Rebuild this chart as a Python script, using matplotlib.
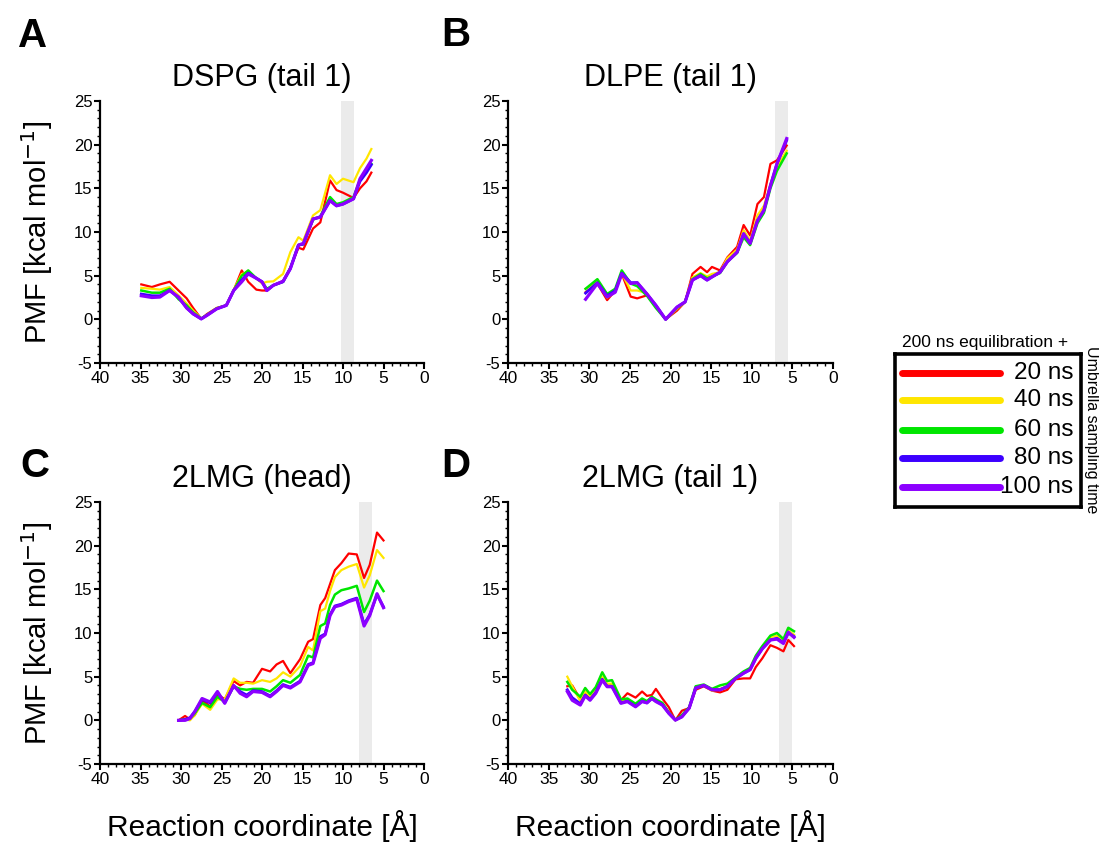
"""
PMF 收敛性对比 — 不同伞形采样时间 (20-100 ns)
"""

import matplotlib
matplotlib.use('Agg')
import matplotlib.pyplot as plt
from matplotlib.ticker import MultipleLocator
from matplotlib import rcParams

rcParams['font.family'] = ['Liberation Sans', 'DejaVu Sans']
rcParams['axes.unicode_minus'] = False

C_RED = '#ff0000'
C_YELLOW = '#ffe600'
C_GREEN = '#00e600'
C_BLUE = '#3c00ff'
C_PURPLE = '#8c00ff'
C_BAND = '#ebebeb'

LABELS = ['20 ns', '40 ns', '60 ns', '80 ns', '100 ns']
COLORS = [C_RED, C_YELLOW, C_GREEN, C_BLUE, C_PURPLE]
WIDTHS = [1.6, 1.6, 1.8, 2.0, 2.3]

# ── A: DSPG (tail 1) ──
A_X = [34.9, 33.6, 32.6, 31.4, 30.3, 29.3, 28.5, 27.5, 26.8, 25.6, 24.4, 23.5, 22.5, 21.7, 20.7,
       20.0, 19.4, 18.6, 17.4, 16.5, 15.5, 14.9, 13.7, 12.8, 11.6, 10.8, 10.0, 8.7, 7.9, 7.1, 6.5]
A_20 = [4.0, 3.7, 4.0, 4.3, 3.3, 2.4, 1.3, 0.05, 0.6, 1.3, 1.6, 3.3, 5.6, 4.3, 3.4,
        3.3, 3.3, 3.9, 4.4, 5.9, 8.2, 8.0, 10.4, 11.1, 15.9, 14.8, 14.5, 13.9, 15.0, 15.8, 16.8]
A_40 = [3.6, 3.5, 3.4, 3.7, 2.75, 1.8, 1.0, 0.1, 0.5, 1.3, 1.6, 3.4, 5.2, 5.4, 4.7,
        4.1, 4.3, 4.35, 5.2, 7.7, 9.4, 9.0, 11.9, 12.5, 16.5, 15.5, 16.1, 15.7, 17.3, 18.4, 19.5]
A_60 = [3.3, 3.05, 3.05, 3.5, 2.3, 1.6, 0.8, 0.1, 0.5, 1.25, 1.6, 3.3, 5.0, 5.6, 4.7,
        4.3, 3.5, 3.9, 4.3, 5.9, 8.5, 8.6, 11.4, 11.8, 14.0, 13.2, 13.4, 14.0, 16.0, 17.1, 17.8]
A_80 = [2.9, 2.7, 2.7, 3.3, 2.5, 1.3, 0.6, 0.05, 0.45, 1.2, 1.6, 3.3, 4.5, 5.3, 4.7,
        4.3, 3.3, 3.9, 4.3, 5.8, 8.5, 8.6, 11.5, 11.7, 13.6, 13.0, 13.2, 13.8, 15.8, 16.8, 17.7]
A_100 = [2.7, 2.5, 2.55, 3.3, 2.55, 1.3, 0.65, 0.05, 0.45, 1.2, 1.6, 3.3, 4.3, 5.2, 4.7,
         4.3, 3.3, 3.9, 4.35, 5.8, 8.5, 8.7, 11.5, 11.7, 13.6, 13.0, 13.2, 13.8, 16.1, 17.3, 18.2]

# ── B: DLPE (tail 1) ──
B_X = [30.45, 29.0, 27.8, 26.8, 26.0, 24.9, 24.1, 22.9, 21.8, 20.6, 19.2, 18.2, 17.3,
       16.3, 15.5, 14.9, 13.9, 13.0, 11.8, 11.0, 10.2, 9.3, 8.5, 7.7, 6.9, 5.7]
B_20 = [3.1, 4.1, 2.2, 3.3, 5.2, 2.6, 2.4, 2.75, 1.6, 0.0, 1.0, 2.0, 5.2,
        6.0, 5.4, 6.0, 5.6, 7.1, 8.3, 10.8, 9.6, 13.2, 14.0, 17.8, 18.2, 19.9]
B_40 = [3.5, 4.3, 2.5, 3.2, 5.3, 3.3, 3.3, 3.0, 1.5, 0.0, 1.2, 2.0, 4.8,
        5.3, 4.9, 5.2, 5.4, 7.0, 8.0, 10.2, 9.0, 11.9, 13.0, 15.5, 17.5, 19.3]
B_60 = [3.5, 4.6, 2.9, 3.5, 5.6, 4.1, 3.8, 2.7, 1.3, 0.0, 1.3, 2.0, 4.6,
        5.2, 4.7, 4.9, 5.3, 6.6, 7.6, 9.4, 8.5, 11.0, 12.2, 15.0, 17.0, 19.0]
B_80 = [3.0, 4.2, 2.7, 3.3, 5.3, 4.2, 4.2, 2.9, 1.6, 0.0, 1.4, 2.0, 4.5,
        5.0, 4.5, 4.85, 5.4, 6.6, 7.7, 9.8, 8.7, 11.3, 12.5, 15.3, 17.8, 20.5]
B_100 = [2.3, 4.1, 2.56, 3.1, 5.2, 4.1, 4.2, 2.9, 1.6, 0.0, 1.4, 2.0, 4.5,
         5.0, 4.5, 4.85, 5.4, 6.6, 7.7, 9.8, 8.7, 11.3, 12.5, 15.3, 17.8, 20.7]

# ── C: 2LMG (head) ──
C_X = [30.3, 29.5, 28.9, 28.3, 27.4, 26.4, 25.5, 24.6, 23.5, 22.7, 21.9, 21.1, 20.0, 19.0, 18.2,
       17.4, 16.5, 15.3, 14.3, 13.7, 12.8, 12.2, 11.6, 11.0, 10.2, 9.3, 8.3, 7.4, 6.7, 5.8, 5.0]
C_20 = [0.0, 0.5, 0.1, 0.6, 2.3, 1.6, 3.0, 2.4, 4.5, 4.0, 4.4, 4.3, 5.9, 5.6, 6.4,
        6.8, 5.4, 7.0, 9.0, 9.3, 13.2, 14.0, 15.6, 17.2, 18.0, 19.1, 19.0, 16.3, 17.8, 21.5, 20.6]
C_40 = [0.0, 0.1, 0.0, 0.6, 1.9, 1.2, 2.4, 2.4, 4.8, 4.3, 4.3, 4.2, 4.6, 4.4, 4.8,
        5.5, 5.0, 6.2, 8.4, 8.0, 12.5, 12.8, 14.8, 16.4, 17.2, 17.6, 17.9, 15.2, 16.6, 19.5, 18.6]
C_60 = [0.0, 0.1, 0.2, 0.8, 2.0, 1.5, 2.7, 2.1, 3.9, 3.6, 3.5, 3.6, 3.6, 3.3, 3.9,
        4.6, 4.3, 5.2, 7.4, 7.2, 10.8, 11.1, 13.2, 14.4, 14.9, 15.1, 15.4, 12.4, 13.7, 16.0, 14.8]
C_80 = [0.0, 0.1, 0.3, 1.0, 2.4, 2.0, 3.2, 2.0, 3.9, 3.3, 2.9, 3.4, 3.3, 2.8, 3.4,
        4.1, 3.8, 4.5, 6.4, 6.6, 9.6, 9.9, 12.1, 13.1, 13.3, 13.7, 14.0, 11.0, 12.1, 14.4, 13.0]
C_100 = [0.0, 0.0, 0.2, 1.0, 2.5, 2.1, 3.3, 1.95, 4.0, 3.1, 2.7, 3.3, 3.2, 2.7, 3.3,
         4.0, 3.7, 4.4, 6.3, 6.5, 9.4, 9.8, 12.0, 13.0, 13.2, 13.6, 13.9, 10.8, 12.0, 14.5, 12.9]

# ── D: 2LMG (tail 1) ──
D_X = [32.7, 32.1, 31.1, 30.5, 29.9, 29.2, 28.4, 27.8, 27.2, 26.1, 25.3, 24.3, 23.5, 22.9, 22.3, 21.8,
       21.0, 20.2, 19.4, 18.6, 17.7, 16.9, 15.9, 14.9, 13.9, 13.0, 12.0, 11.0, 10.2, 9.5, 8.7, 7.7,
       6.9, 6.1, 5.5, 4.8]
D_20 = [3.9, 4.0, 2.4, 3.0, 2.7, 3.4, 4.7, 4.0, 4.0, 2.3, 3.1, 2.6, 3.3, 2.8, 2.9, 3.6,
        2.5, 1.5, 0.0, 1.1, 1.4, 3.5, 3.9, 3.4, 3.2, 3.5, 4.7, 4.8, 4.8, 6.1, 7.1, 8.6,
        8.3, 7.9, 9.2, 8.5]
D_40 = [5.0, 3.9, 2.2, 3.3, 2.7, 3.5, 5.0, 4.2, 4.2, 2.2, 2.4, 1.8, 2.4, 2.1, 2.6, 2.3,
        1.9, 0.9, 0.05, 0.5, 1.4, 3.8, 4.0, 3.4, 3.6, 3.9, 4.8, 5.5, 5.9, 7.2, 8.3, 9.5,
        9.7, 9.1, 10.3, 9.8]
D_60 = [4.4, 3.5, 2.7, 3.7, 3.0, 3.8, 5.5, 4.5, 4.6, 2.4, 2.5, 1.9, 2.5, 2.2, 2.7, 2.4,
        2.0, 0.9, 0.05, 0.6, 1.5, 3.9, 4.1, 3.6, 4.0, 4.2, 4.9, 5.6, 6.0, 7.4, 8.5, 9.7,
        10.0, 9.3, 10.6, 10.2]
D_80 = [3.5, 2.6, 1.9, 2.9, 2.4, 3.2, 4.7, 3.9, 3.9, 2.0, 2.2, 1.6, 2.2, 2.0, 2.5, 2.2,
        1.8, 0.8, 0.03, 0.4, 1.4, 3.7, 4.0, 3.5, 3.5, 3.9, 4.8, 5.4, 5.8, 7.1, 8.2, 9.2,
        9.4, 8.9, 10.0, 9.6]
D_100 = [3.3, 2.3, 1.75, 2.8, 2.3, 3.1, 4.6, 3.85, 3.85, 1.95, 2.15, 1.55, 2.15, 2.0, 2.5, 2.15,
         1.75, 0.8, 0.03, 0.4, 1.4, 3.7, 4.0, 3.5, 3.5, 3.85, 4.8, 5.4, 5.8, 7.1, 8.2, 9.2,
         9.3, 8.8, 10.1, 9.5]

TITLES = ['DSPG (tail 1)', 'DLPE (tail 1)', '2LMG (head)', '2LMG (tail 1)']
LETTERS = ['A', 'B', 'C', 'D']
BANDS = [(8.6, 10.2), (5.6, 7.2), (6.4, 8.0), (5.0, 6.6)]
PANELS = [
    (A_X, [A_20, A_40, A_60, A_80, A_100]),
    (B_X, [B_20, B_40, B_60, B_80, B_100]),
    (C_X, [C_20, C_40, C_60, C_80, C_100]),
    (D_X, [D_20, D_40, D_60, D_80, D_100]),
]

W, H = 1099, 850
# 轴位置 (像素): left, top, right, bottom
AX_PX = [(100, 101, 424, 363), (508, 101, 833, 363),
         (100, 502, 424, 764), (508, 502, 833, 764)]
# 面板字母基线位置 (像素)
LETTER_PX = [(18, 47), (441, 46), (20, 477), (441, 477)]


def style_axis(ax, show_ylabel, show_xlabel):
    ax.set_xlim(40, 0)
    ax.set_ylim(-5, 25)
    ax.xaxis.set_major_locator(MultipleLocator(5))
    ax.xaxis.set_minor_locator(MultipleLocator(1))
    ax.yaxis.set_major_locator(MultipleLocator(5))
    ax.yaxis.set_minor_locator(MultipleLocator(1))
    for s in ['top', 'right']:
        ax.spines[s].set_visible(False)
    for s in ['left', 'bottom']:
        ax.spines[s].set_linewidth(1.6)
    ax.tick_params(which='major', direction='out', length=4, width=1.5, pad=1.5)
    ax.tick_params(which='minor', direction='out', length=2.2, width=1.0)
    ax.tick_params(axis='x', labelsize=12.5)
    ax.tick_params(axis='y', labelsize=12)
    if show_ylabel:
        ax.set_ylabel('PMF [kcal mol$^{-1}$]', fontsize=21)
        ax.yaxis.set_label_coords(-0.14, 0.5)
    if show_xlabel:
        ax.set_xlabel('Reaction coordinate [Å]', fontsize=21.5)
        ax.xaxis.set_label_coords(0.5, -0.175)


def draw_legend(fig):
    l, t, r, b = 895, 354, 1081, 507
    lax = fig.add_axes([l / W, 1 - b / H, (r - l) / W, (b - t) / H])
    lax.set_xlim(0, 1)
    lax.set_ylim(0, 1)
    lax.set_xticks([])
    lax.set_yticks([])
    for s in lax.spines.values():
        s.set_linewidth(2.6)
    ys = [0.876, 0.699, 0.503, 0.320, 0.131]
    for y, lab, c in zip(ys, LABELS, COLORS):
        lax.plot([0.04, 0.565], [y, y], color=c, linewidth=5, solid_capstyle='round')
        lax.text(0.96, y, lab, ha='right', va='center', fontsize=17.5)
    fig.text(985 / W, 1 - 343 / H, '200 ns equilibration +', ha='center', va='center', fontsize=12.5)
    fig.text(1091 / W, 1 - 430 / H, 'Umbrella sampling time', ha='center', va='center',
             rotation=-90, fontsize=11.5)


def main():
    fig = plt.figure(figsize=(W / 100, H / 100), dpi=100)

    for i, (x, ys) in enumerate(PANELS):
        l, t, r, b = AX_PX[i]
        ax = fig.add_axes([l / W, 1 - b / H, (r - l) / W, (b - t) / H])
        ax.axvspan(BANDS[i][0], BANDS[i][1], color=C_BAND, zorder=0, linewidth=0)
        for y, c, lw, lab in zip(ys, COLORS, WIDTHS, LABELS):
            ax.plot(x, y, color=c, linewidth=lw, label=lab)
        style_axis(ax, show_ylabel=(i % 2 == 0), show_xlabel=(i >= 2))
        ax.set_title(TITLES[i], fontsize=22, pad=11)
        lx, ly = LETTER_PX[i]
        fig.text(lx / W, 1 - ly / H, LETTERS[i], fontsize=29,
                 fontweight='bold', ha='left', va='baseline')

    draw_legend(fig)
    fig.savefig('out.png', dpi=100)
    plt.close(fig)


if __name__ == '__main__':
    main()
